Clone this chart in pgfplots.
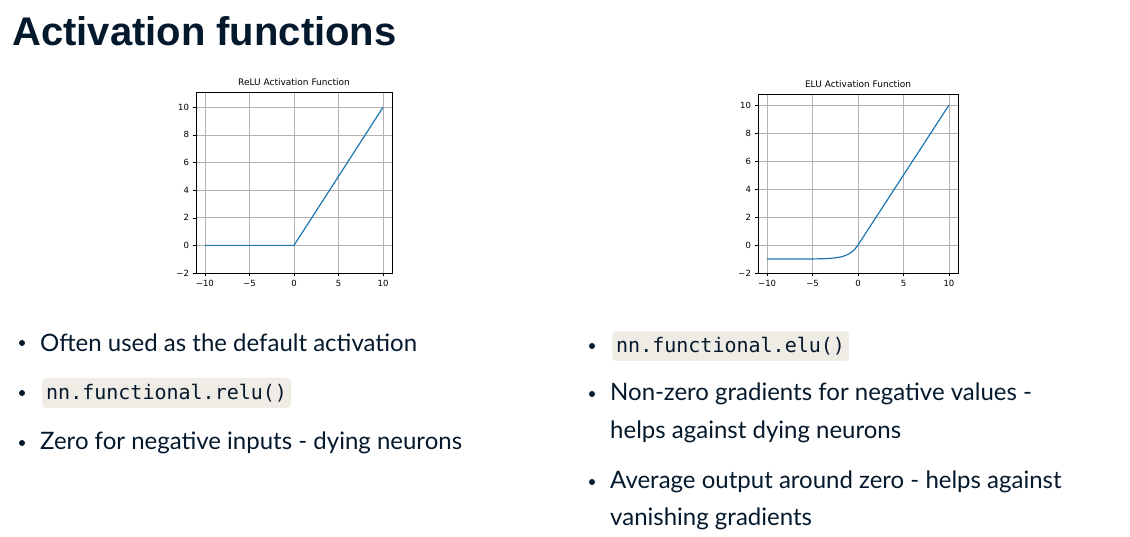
\documentclass[border=0pt]{standalone}
\usepackage{pgfplots}
\pgfplotsset{compat=1.18}
\usepackage{fontspec}
\setmainfont{Lato}
\newfontfamily\titlefont{Liberation Sans}
\newfontfamily\tickfont{DejaVu Sans}
\newfontfamily\codefont{DejaVu Sans Mono}
\definecolor{navy}{HTML}{05192D}
\definecolor{mplblue}{HTML}{1F77B4}
\definecolor{codebg}{HTML}{EFEBE5}
\begin{document}
\begin{tikzpicture}[x=1pt,y=1pt]
\useasboundingbox (0pt,0pt) rectangle (1130pt,536pt);
\fill[white] (0pt,0pt) rectangle (1130pt,536pt);
\node[anchor=base west,text=navy,inner sep=0] at (12pt,490pt) {\titlefont\fontsize{40}{44}\selectfont\bfseries Activation functions};
\pgfplotsset{every axis/.style={scale only axis, axis line style={black,line width=0.6pt},
 grid=both, grid style={color=black!30,line width=0.5pt},
 tick style={black}, tick align=outside, major tick length=3.5pt,
 xtick pos=bottom, ytick pos=left,
 ticklabel style={font=\tickfont\fontsize{8.5}{9}\selectfont},
 title style={font=\tickfont\fontsize{9}{10}\selectfont, yshift=-3pt},
 xtick={-10,-5,0,5,10}, xticklabels={−10,−5,0,5,10},
 ytick={-2,0,2,4,6,8,10}, yticklabels={−2,0,2,4,6,8,10},
 xmin=-11, xmax=11, ymin=-2}}
\begin{axis}[at={(196pt,263pt)},anchor=south west,width=196pt,height=181pt,ymax=11.1,
 title={ReLU Activation Function}]
\addplot[mplblue,line width=1.2pt] coordinates {(-10,0) (0,0) (10,10)};
\end{axis}
\begin{axis}[at={(758pt,263pt)},anchor=south west,width=200pt,height=179pt,ymax=10.8,
 title={ELU Activation Function}]
\addplot[mplblue,line width=1.2pt,smooth] coordinates {(-10,-0.99995) (-8,-0.9997) (-6,-0.9975) (-5,-0.9933) (-4,-0.9817) (-3,-0.9502) (-2,-0.8647) (-1.5,-0.7769) (-1,-0.6321) (-0.5,-0.3935) (-0.2,-0.1813) (0,0)};
\addplot[mplblue,line width=1.2pt] coordinates {(0,0) (10,10)};
\end{axis}
\tikzset{txt/.style={anchor=west,text=navy,inner sep=0,font=\fontsize{24}{28}\selectfont},
 code/.style={anchor=west,text=navy,fill=codebg,rounded corners=4pt,inner xsep=4pt,inner ysep=6pt,font=\codefont\fontsize{20}{24}\selectfont},
 bul/.style={fill=navy,circle,inner sep=0,minimum size=6pt}}
\node[bul] at (22pt,193pt) {}; \node[txt] at (40pt,193pt) {Often used as the default activation};
\node[bul] at (22pt,143pt) {}; \node[code] at (42pt,143pt) {nn.functional.relu()};
\node[bul] at (22pt,93pt) {}; \node[txt] at (40pt,93pt) {Zero for negative inputs - dying neurons};
\node[bul] at (592pt,190pt) {}; \node[code] at (612pt,190pt) {nn.functional.elu()};
\node[bul] at (592pt,142pt) {}; \node[txt] at (610pt,142pt) {Non-zero gradients for negative values -};
\node[txt] at (610pt,104pt) {helps against dying neurons};
\node[bul] at (592pt,54pt) {}; \node[txt] at (610pt,54pt) {Average output around zero - helps against};
\node[txt] at (610pt,17pt) {vanishing gradients};
\end{tikzpicture}
\end{document}
